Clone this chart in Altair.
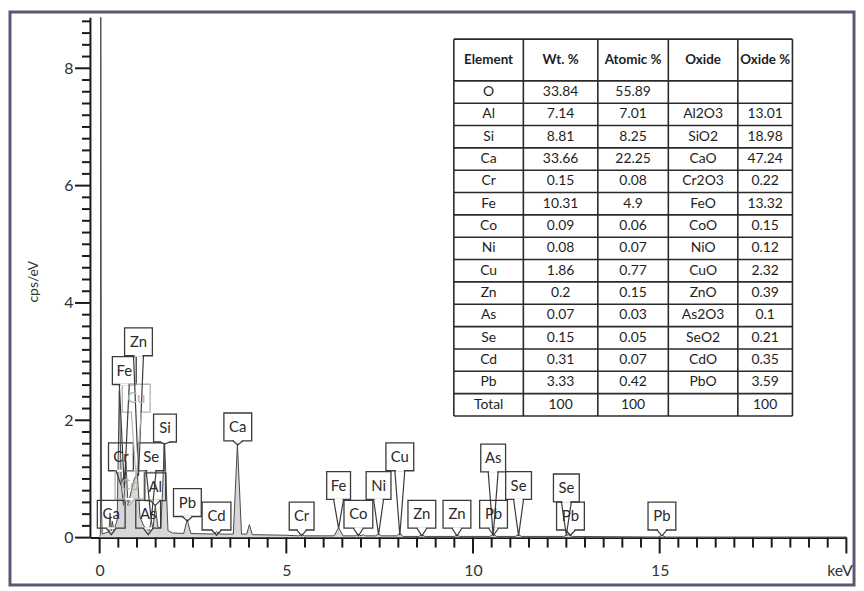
import altair as alt
import pandas as pd

# ---------------- data ----------------
# spectrum vertices (keV, cps/eV)
spec_e = [0.00, 0.02, 0.03, 0.05, 0.07, 0.15, 0.25, 0.28, 0.31, 0.34, 0.38, 0.47, 0.525,
          0.58, 0.64, 0.705, 0.76, 0.85, 0.93, 1.01, 1.08, 1.18, 1.28, 1.33, 1.38, 1.43,
          1.49, 1.56, 1.64, 1.74, 1.83, 1.95, 2.25, 2.345, 2.44, 3.05, 3.13, 3.22, 3.58,
          3.69, 3.80, 3.94, 4.01, 4.09, 5.00, 5.33, 5.41, 5.49, 6.28, 6.40, 6.52, 6.85,
          6.93, 7.00, 7.06, 7.12, 7.39, 7.47, 7.55, 7.96, 8.04, 8.12, 8.55, 8.63, 8.71,
          9.49, 9.57, 9.65, 10.45, 10.54, 10.63, 11.13, 11.22, 11.30, 12.42, 12.55, 12.66,
          14.96, 15.06, 15.16, 20.0]
spec_v = [0.02, 0.05, 8.87, 0.45, 0.06, 0.08, 0.10, 0.42, 0.12, 0.28, 0.12, 0.30, 2.50,
          0.90, 0.55, 1.30, 0.55, 0.80, 1.00, 1.10, 0.35, 0.20, 0.14, 0.12, 0.30, 0.15,
          0.55, 0.18, 0.16, 1.62, 0.12, 0.08, 0.07, 0.31, 0.07, 0.06, 0.10, 0.06, 0.06,
          1.60, 0.06, 0.06, 0.22, 0.05, 0.04, 0.03, 0.06, 0.03, 0.03, 0.17, 0.03, 0.03,
          0.06, 0.03, 0.05, 0.03, 0.03, 0.06, 0.03, 0.03, 0.08, 0.02, 0.02, 0.05, 0.02,
          0.02, 0.04, 0.02, 0.02, 0.06, 0.02, 0.02, 0.05, 0.02, 0.02, 0.05, 0.02,
          0.01, 0.04, 0.01, 0.01]

# peak labels: name, energy, box bottom (cps/eV), pointer tip (cps/eV), faint
lab_name = ["Zn", "Fe", "Cu", "Si", "Ca", "Cr", "Se", "Co", "Al", "Ca", "As", "Pb", "Cd",
            "Cr", "Fe", "Co", "Ni", "Cu", "Zn", "Zn", "As", "Pb", "Se", "Se", "Pb", "Pb"]
lab_e = [1.04, 0.66, 0.98, 1.75, 3.70, 0.57, 1.38, 0.80, 1.49, 0.31, 1.30, 2.35, 3.13,
         5.41, 6.40, 6.93, 7.47, 8.04, 8.63, 9.57, 10.54, 10.55, 11.22, 12.50, 12.61, 15.06]
lab_bottom = [3.10, 2.61, 2.14, 1.63, 1.65, 1.14, 1.14, 0.66, 0.63, 0.16, 0.16, 0.36, 0.13,
              0.13, 0.65, 0.16, 0.65, 1.14, 0.16, 0.16, 1.12, 0.16, 0.65, 0.61, 0.13, 0.13]
lab_tip = [1.05, 0.85, 1.00, 1.60, 1.58, 0.90, 0.30, 0.55, 0.55, 0.05, 0.05, 0.28, 0.04,
           0.03, 0.16, 0.03, 0.05, 0.04, 0.03, 0.03, 0.03, 0.04, 0.03, 0.04, 0.04, 0.03]
lab_faint = [0, 0, 1, 0, 0, 0, 0, 1, 0, 0, 0, 0, 0,
             0, 0, 0, 0, 0, 0, 0, 0, 0, 0, 0, 0, 0]

# table
tbl_header = ["Element", "Wt. %", "Atomic %", "Oxide", "Oxide %"]
tbl_element = ["O", "Al", "Si", "Ca", "Cr", "Fe", "Co", "Ni", "Cu", "Zn", "As", "Se", "Cd", "Pb", "Total"]
tbl_wt = ["33.84", "7.14", "8.81", "33.66", "0.15", "10.31", "0.09", "0.08", "1.86", "0.2",
          "0.07", "0.15", "0.31", "3.33", "100"]
tbl_atomic = ["55.89", "7.01", "8.25", "22.25", "0.08", "4.9", "0.06", "0.07", "0.77", "0.15",
              "0.03", "0.05", "0.07", "0.42", "100"]
tbl_oxide = ["", "Al2O3", "SiO2", "CaO", "Cr2O3", "FeO", "CoO", "NiO", "CuO", "ZnO",
             "As2O3", "SeO2", "CdO", "PbO", ""]
tbl_oxpct = ["", "13.01", "18.98", "47.24", "0.22", "13.32", "0.15", "0.12", "2.32", "0.39",
             "0.1", "0.21", "0.35", "3.59", "100"]

x_ticks = [round(0.5 * k, 1) for k in range(41)]
y_ticks = [round(0.2 * k, 1) for k in range(45)]

# ---------------- layout / style ----------------
FONT = "Lato"
W, H, PADV = 850, 577, 2
VX, VY = 10, 10                 # page position of view origin
X0, XS = 100.3, 37.6            # page px of 0 keV, px per keV
Y0, YS = 539.3, 59.08           # page px of 0 cps/eV, px per unit
XMIN, XMAX, YMAX = -0.26, 20.0, 8.87

xr = [X0 - VX + XMIN * XS, X0 - VX + XMAX * XS]
yr = [Y0 - VY, Y0 - VY - YMAX * YS]


def px2e(px):
    return (px - X0) / XS


def py2v(py):
    return (Y0 - py) / YS


xsc = alt.Scale(domain=[XMIN, XMAX], range=xr, nice=False, zero=False)
ysc = alt.Scale(domain=[0, YMAX], range=yr, nice=False, zero=False)

INK = "#1a1a1a"
IS_EVEN = "abs(datum.value - round(datum.value / 2) * 2) < 0.01"
xaxis = alt.Axis(
    values=x_ticks, offset=(Y0 - VY) - H, grid=False, title=None,
    domainColor=INK, domainWidth=2, ticks=False,
    labelExpr="datum.value === 20 ? 'keV' : (datum.value % 5 === 0 ? format(datum.value, 'd') : '')",
    labelFont=FONT, labelFontSize=16, labelColor="#333", labelPadding=25,
    labelFlush=True, labelFlushOffset=6, labelOverlap=False,
)
yaxis = alt.Axis(
    values=y_ticks, offset=-(X0 - VX + XMIN * XS), grid=False, title="cps/eV",
    domainColor=INK, domainWidth=2, ticks=False,
    labelExpr=IS_EVEN + " ? format(datum.value, 'd') : ''",
    labelFont=FONT, labelFontSize=16, labelColor="#333", labelPadding=17,
    labelFlush=False, labelOverlap=False,
    titleFont=FONT, titleFontSize=14, titleFontWeight="normal", titleColor="#333",
    titleX=34 - (X0 + XMIN * XS), titleY=281 - VY, titleBaseline="middle", titleAlign="center",
    titleAngle=270,
)


def X(field):
    return alt.X(field, scale=xsc, axis=xaxis)


def Y(field):
    return alt.Y(field, scale=ysc, axis=yaxis)


# ---------------- axis ticks (drawn as rules from the tick lists) ----------------
XT_MAJOR, XT_MINOR, YT_MAJOR, YT_MINOR = 16, 10, 15, 8
xt = pd.DataFrame({"x": x_ticks})
xt["y"] = 0.0
xt["y2"] = [-(XT_MAJOR if abs(v % 5) < 1e-9 else XT_MINOR) / YS for v in x_ticks]
yt = pd.DataFrame({"y": y_ticks})
yt["x"] = XMIN
yt["x2"] = [XMIN - (YT_MAJOR if abs(v - round(v / 2) * 2) < 0.01 else YT_MINOR) / XS for v in y_ticks]

xtick_layer = alt.Chart(xt).mark_rule(color=INK, strokeWidth=2).encode(
    x=X("x:Q"), y=Y("y:Q"), y2="y2:Q")
ytick_layer = alt.Chart(yt).mark_rule(color=INK, strokeWidth=2).encode(
    x=X("x:Q"), x2="x2:Q", y=Y("y:Q"))

# ---------------- spectrum ----------------
spec = pd.DataFrame({"e": spec_e, "v": spec_v})
area = alt.Chart(spec).mark_area(
    color="#c6c6c6", line={"color": "#4a4a4a", "strokeWidth": 1}, clip=True
).encode(x=X("e:Q"), y=Y("v:Q"))

# ---------------- labels ----------------
BOX_H = 28
box_w = {"Zn": 28, "Fe": 24, "Cu": 28, "Si": 23, "Ca": 28, "Cr": 25, "Se": 26, "Co": 29,
         "Al": 21, "As": 25, "Pb": 28, "Cd": 29, "Ni": 25}
HALF_V = 5

boxes, ptr, cover = [], [], []
for i, (n, e, b, t, f) in enumerate(zip(lab_name, lab_e, lab_bottom, lab_tip, lab_faint)):
    col = "#b5b5b5" if f else "#3a3a3a"
    tcol = "#b0b0b0" if f else "#2a2a2a"
    hw = box_w[n] / 2 / XS
    boxes.append({"id": i, "x": e - hw, "x2": e + hw, "y": b, "y2": b + BOX_H / YS,
                  "tx": e, "ty": b + BOX_H / 2 / YS, "name": n, "col": col, "tcol": tcol})
    dv = HALF_V / XS
    for k, (xx, yy) in enumerate([(e - dv, b), (e, t), (e + dv, b)]):
        ptr.append({"id": i, "k": k, "x": xx, "y": yy, "col": col})
    cover.append({"x": e - (HALF_V - 1) / XS, "x2": e + (HALF_V - 1) / XS, "y": b})
boxes = pd.DataFrame(boxes)
ptr = pd.DataFrame(ptr)
cover = pd.DataFrame(cover)

box_layer = alt.Chart(boxes).mark_rect(fillOpacity=0, strokeWidth=1.3).encode(
    x=X("x:Q"), x2="x2:Q", y=Y("y:Q"), y2="y2:Q",
    stroke=alt.Stroke("col:N", scale=None),
)
cover_layer = alt.Chart(cover).mark_rule(color="white", strokeWidth=2).encode(
    x=X("x:Q"), x2="x2:Q", y=Y("y:Q"),
)
ptr_layer = alt.Chart(ptr).mark_line(strokeWidth=1.2).encode(
    x=X("x:Q"), y=Y("y:Q"),
    detail="id:N", order="k:Q",
    color=alt.Color("col:N", scale=None),
)
txt_layer = alt.Chart(boxes).mark_text(font=FONT, fontSize=15, baseline="middle", align="center").encode(
    x=X("tx:Q"), y=Y("ty:Q"), text="name:N",
    color=alt.Color("tcol:N", scale=None),
)

# ---------------- table ----------------
col_px = [457, 527, 602, 673, 743, 798]
row_px = [37.3, 79.3] + [79.3 + 22.5 * (k + 1) for k in range(15)]

rules = []
for py in row_px:
    rules.append({"x": px2e(col_px[0]), "x2": px2e(col_px[-1]), "y": py2v(py), "y2": py2v(py)})
for px in col_px:
    rules.append({"x": px2e(px), "x2": px2e(px), "y": py2v(row_px[0]), "y2": py2v(row_px[-1])})
rules = pd.DataFrame(rules)

cells = []
cols = [tbl_element, tbl_wt, tbl_atomic, tbl_oxide, tbl_oxpct]
for c in range(5):
    cx = px2e((col_px[c] + col_px[c + 1]) / 2)
    cells.append({"x": cx, "y": py2v((row_px[0] + row_px[1]) / 2), "t": tbl_header[c], "w": "bold"})
    for r in range(15):
        cells.append({"x": cx, "y": py2v((row_px[r + 1] + row_px[r + 2]) / 2), "t": cols[c][r], "w": "normal"})
cells = pd.DataFrame(cells)

rule_layer = alt.Chart(rules).mark_rule(color="#2a2a2a", strokeWidth=1.6).encode(
    x=X("x:Q"), x2="x2:Q", y=Y("y:Q"), y2="y2:Q",
)
cell_hdr = alt.Chart(cells[cells.w == "bold"]).mark_text(
    font=FONT, fontSize=13.5, fontWeight="bold", color="#1e1e1e", baseline="middle"
).encode(x=X("x:Q"), y=Y("y:Q"), text="t:N")
cell_body = alt.Chart(cells[cells.w == "normal"]).mark_text(
    font=FONT, fontSize=14, color="#1e1e1e", baseline="middle"
).encode(x=X("x:Q"), y=Y("y:Q"), text="t:N")

chart = alt.layer(
    area, xtick_layer, ytick_layer, box_layer, cover_layer, ptr_layer, txt_layer,
    rule_layer, cell_hdr, cell_body
).properties(
    width=W, height=H, padding=PADV, autosize=alt.AutoSizeParams(type="none"),
    background="white",
).configure_view(stroke="#5b5876", strokeWidth=3)

chart.save("out.html", embed_options={"renderer": "svg", "actions": False})
